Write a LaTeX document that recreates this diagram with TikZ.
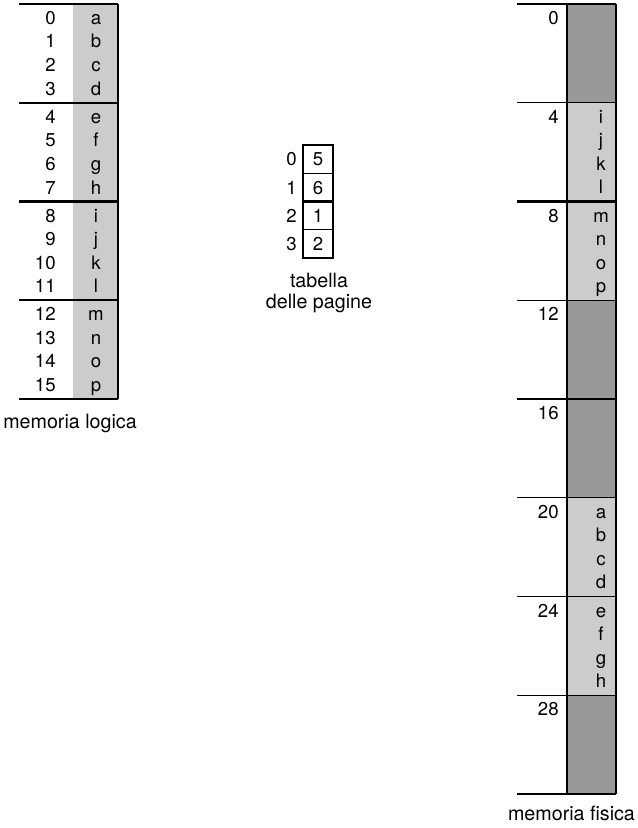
\documentclass[tikz,border=0pt]{standalone}
\usepackage{fontspec}
\setmainfont{TeX Gyre Heros}
\definecolor{pageclr}{gray}{0.80}
\definecolor{freeclr}{gray}{0.60}
\tikzset{
  num/.style={anchor=base east,inner sep=0pt},
  ltr/.style={anchor=base,inner sep=0pt},
  caption/.style={anchor=base,inner sep=0pt,font=\fontsize{11.2}{11.9}\selectfont},
  sep/.style={line width=0.75pt},
  bigsep/.style={line width=1.5pt},
}
\begin{document}
\begin{tikzpicture}[x=0.02cm,y=-0.02cm,font=\fontsize{10.6}{12}\selectfont]
\useasboundingbox (0,0) rectangle (637,828);
% memoria logica
\fill[pageclr] (73,4) rectangle (118,399);
\draw[sep] (19,4) -- (118,4) (19,103) -- (118,103) (19,300) -- (118,300) (19,399) -- (118,399);
\draw[bigsep] (19,201.5) -- (118,201.5);
\draw[sep] (118,4) -- (118,399);
\draw (56,24.5)  node[num] (l0)  {0}  (96,24.5)  node[ltr] (la) {a};
\draw (56,48)    node[num] (l1)  {1}  (96,48)    node[ltr] (lb) {b};
\draw (56,71.5)  node[num] (l2)  {2}  (96,71.5)  node[ltr] (lc) {c};
\draw (56,95)    node[num] (l3)  {3}  (96,95)    node[ltr] (ld) {d};
\draw (56,123.5) node[num] (l4)  {4}  (96,123.5) node[ltr] (le) {e};
\draw (56,147)   node[num] (l5)  {5}  (96,147)   node[ltr] (lf) {f};
\draw (56,170.5) node[num] (l6)  {6}  (96,170.5) node[ltr] (lg) {g};
\draw (56,194)   node[num] (l7)  {7}  (96,194)   node[ltr] (lh) {h};
\draw (56,222)   node[num] (l8)  {8}  (96,222)   node[ltr] (li) {i};
\draw (56,245.5) node[num] (l9)  {9}  (96,245.5) node[ltr] (lj) {j};
\draw (56,269)   node[num] (l10) {10} (96,269)   node[ltr] (lk) {k};
\draw (56,292.5) node[num] (l11) {11} (96,292.5) node[ltr] (ll) {l};
\draw (56,320.5) node[num] (l12) {12} (96,320.5) node[ltr] (lm) {m};
\draw (56,344)   node[num] (l13) {13} (96,344)   node[ltr] (ln) {n};
\draw (56,367.5) node[num] (l14) {14} (96,367.5) node[ltr] (lo) {o};
\draw (56,391)   node[num] (l15) {15} (96,391)   node[ltr] (lp) {p};
\draw (70,428) node[caption] (lcap) {memoria logica};
% tabella delle pagine
\draw[sep] (303,145) rectangle (333,258);
\draw[sep] (303,173.25) -- (333,173.25) (303,229.75) -- (333,229.75);
\draw[bigsep] (303,201.5) -- (333,201.5);
\draw (297,165.5) node[num] (t0) {0} (318,165.5) node[ltr] (e0) {5};
\draw (297,194)   node[num] (t1) {1} (318,194)   node[ltr] (e1) {6};
\draw (297,222)   node[num] (t2) {2} (318,222)   node[ltr] (e2) {1};
\draw (297,250.5) node[num] (t3) {3} (318,250.5) node[ltr] (e3) {2};
\node[caption,align=center,anchor=north] (tcap) at (319,273) {tabella\\delle pagine};
% memoria fisica
\fill[freeclr] (567,4)      rectangle (616,102.75);
\fill[pageclr] (567,102.75) rectangle (616,300.25);
\fill[freeclr] (567,300.25) rectangle (616,497.75);
\fill[pageclr] (567,497.75) rectangle (616,695.25);
\fill[freeclr] (567,695.25) rectangle (616,794);
\draw[sep] (517,4) -- (616,4) (517,102.75) -- (616,102.75) (517,300.25) -- (616,300.25)
  (517,399) -- (616,399) (517,497.75) -- (616,497.75) (517,596.5) -- (616,596.5)
  (517,695.25) -- (616,695.25) (517,794) -- (616,794);
\draw[bigsep] (517,201.5) -- (616,201.5);
\draw[sep] (567,4) -- (567,794) (616,4) -- (616,794);
\draw (559,24.5)   node[num] (f0)  {0};
\draw (559,123.25) node[num] (f4)  {4}
  (601,123.25) node[ltr] (fi) {i} (601,146.75) node[ltr] (fj) {j}
  (601,170.25) node[ltr] (fk) {k} (601,193.75) node[ltr] (fl) {l};
\draw (559,222)    node[num] (f8)  {8}
  (601,222) node[ltr] (fm) {m} (601,245.5) node[ltr] (fn) {n}
  (601,269) node[ltr] (fo) {o} (601,292.5) node[ltr] (fp) {p};
\draw (559,320.75) node[num] (f12) {12};
\draw (559,419.5)  node[num] (f16) {16};
\draw (559,518.25) node[num] (f20) {20}
  (601,518.25) node[ltr] (fa) {a} (601,541.75) node[ltr] (fb) {b}
  (601,565.25) node[ltr] (fc) {c} (601,588.75) node[ltr] (fd) {d};
\draw (559,617)    node[num] (f24) {24}
  (601,617) node[ltr] (fe) {e} (601,640.5) node[ltr] (ff) {f}
  (601,664) node[ltr] (fg) {g} (601,687.5) node[ltr] (fh) {h};
\draw (559,715.75) node[num] (f28) {28};
\draw (571.5,820) node[caption] (fcap) {memoria fisica};
\end{tikzpicture}
\end{document}
